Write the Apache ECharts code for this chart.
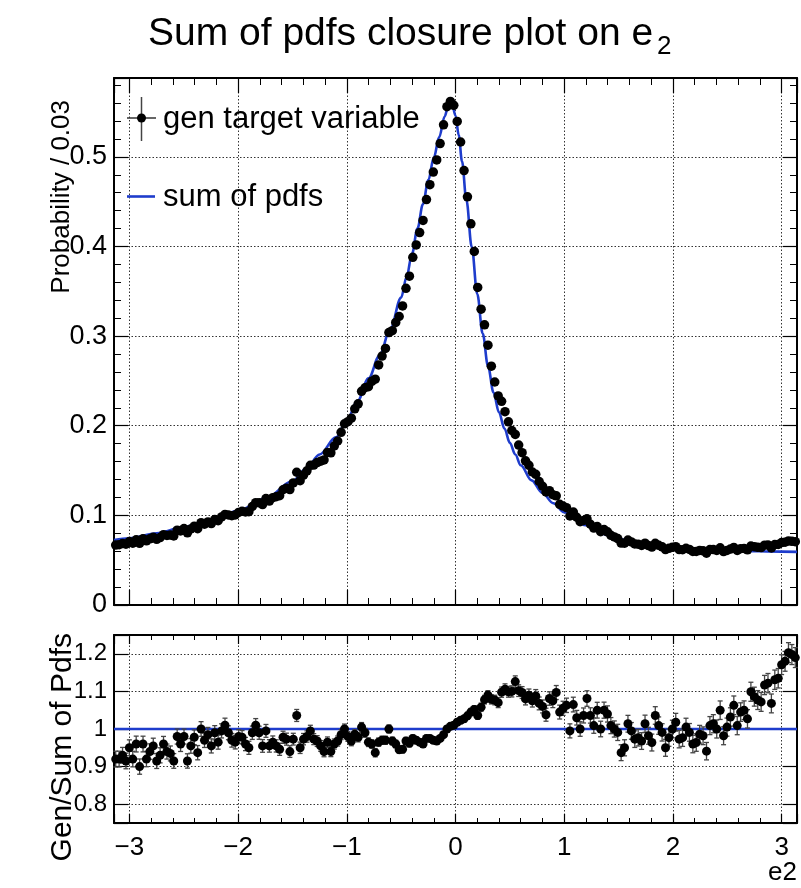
<!DOCTYPE html>
<html>
<head>
<meta charset="utf-8">
<script src="https://cdn.jsdelivr.net/npm/echarts@6/dist/echarts.min.js"></script>
<style>
html,body{margin:0;padding:0;background:#fff}
#c{width:801px;height:888px}
</style>
</head>
<body>
<div id="c"></div>
<script>
// ---------------- DATA ----------------
const binCount = 200;
const xMin = -Math.PI;
const xMax = Math.PI;

// gen target variable, probability per bin (200 bins over [-pi, pi])
const genValues = [
0.0669,0.0673,0.0685,0.0678,0.0708,0.0690,0.0727,0.0688,0.0740,0.0716,
0.0738,0.0757,0.0733,0.0752,0.0784,0.0776,0.0780,0.0771,0.0835,0.0827,
0.0853,0.0805,0.0849,0.0879,0.0851,0.0918,0.0901,0.0927,0.0909,0.0954,
0.0941,0.0983,0.1011,0.1004,0.0996,0.1004,0.1033,0.1045,0.1039,0.1041,
0.1099,0.1142,0.1140,0.1120,0.1188,0.1160,0.1197,0.1208,0.1220,0.1286,
0.1304,0.1288,0.1362,0.1481,0.1387,0.1450,0.1497,0.1558,0.1561,0.1589,
0.1604,0.1619,0.1702,0.1698,0.1774,0.1830,0.1927,0.2022,0.2046,0.2085,
0.2189,0.2245,0.2384,0.2424,0.2436,0.2496,0.2519,0.2679,0.2778,0.2863,
0.3040,0.3061,0.3153,0.3219,0.3337,0.3533,0.3669,0.3879,0.4018,0.4155,
0.4291,0.4524,0.4690,0.4831,0.4966,0.5148,0.5358,0.5560,0.5619,0.5575,
0.5395,0.5166,0.4847,0.4554,0.4253,0.3945,0.3543,0.3301,0.3126,0.2899,
0.2665,0.2488,0.2333,0.2273,0.2157,0.2044,0.1947,0.1903,0.1785,0.1700,
0.1609,0.1559,0.1484,0.1458,0.1378,0.1325,0.1261,0.1276,0.1231,0.1218,
0.1123,0.1104,0.1086,0.0993,0.1037,0.0979,0.0930,0.0943,0.0962,0.0901,
0.0858,0.0876,0.0818,0.0842,0.0817,0.0777,0.0759,0.0741,0.0691,0.0690,
0.0725,0.0704,0.0682,0.0678,0.0665,0.0690,0.0663,0.0646,0.0689,0.0666,
0.0649,0.0618,0.0632,0.0643,0.0651,0.0618,0.0617,0.0632,0.0620,0.0598,
0.0598,0.0609,0.0605,0.0578,0.0618,0.0619,0.0609,0.0638,0.0596,0.0609,
0.0624,0.0642,0.0608,0.0629,0.0631,0.0616,0.0658,0.0651,0.0644,0.0641,
0.0667,0.0670,0.0637,0.0674,0.0675,0.0697,0.0701,0.0715,0.0710,0.0706
];

// Gen / Sum of Pdfs ratio per bin
const ratioValues = [
0.920,0.920,0.930,0.915,0.950,0.920,0.960,0.900,0.960,0.920,
0.940,0.955,0.915,0.930,0.960,0.940,0.935,0.915,0.980,0.960,
0.980,0.915,0.955,0.978,0.937,1.000,0.970,0.985,0.955,0.990,
0.965,0.995,1.010,0.990,0.970,0.965,0.980,0.978,0.960,0.950,
0.990,1.010,0.990,0.955,0.995,0.955,0.965,0.955,0.946,0.978,
0.973,0.940,0.973,1.036,0.950,0.973,0.980,0.995,0.973,0.968,
0.955,0.940,0.965,0.940,0.960,0.968,0.985,1.000,0.980,0.968,
0.986,0.978,1.005,0.990,0.965,0.960,0.937,0.965,0.970,0.970,
1.000,0.968,0.960,0.945,0.946,0.968,0.962,0.975,0.970,0.965,
0.960,0.975,0.975,0.970,0.968,0.975,0.985,1.000,1.007,1.010,
1.018,1.023,1.027,1.035,1.045,1.052,1.036,1.058,1.078,1.090,
1.079,1.077,1.070,1.098,1.106,1.099,1.100,1.126,1.102,1.097,
1.080,1.090,1.075,1.088,1.068,1.060,1.038,1.081,1.075,1.097,
1.045,1.055,1.063,0.995,1.065,1.030,1.000,1.036,1.081,1.036,
1.009,1.050,1.000,1.050,1.040,1.009,1.000,0.991,0.937,0.950,
1.014,0.995,0.973,0.977,0.968,1.014,0.982,0.964,1.036,1.009,
0.991,0.950,0.977,1.000,1.018,0.973,0.977,1.005,0.991,0.960,
0.964,0.986,0.982,0.941,1.009,1.014,1.000,1.050,0.982,1.005,
1.032,1.063,1.009,1.045,1.050,1.027,1.099,1.086,1.077,1.072,
1.117,1.122,1.068,1.131,1.135,1.171,1.180,1.203,1.198,1.190
];

// sum of pdfs curve, sampled (x, probability)
const pdfX = [-3.1416,-3.0,-2.75,-2.5,-2.25,-2.0,-1.75,-1.5,-1.375,-1.25,-1.1,-1.0,-0.9,-0.8,-0.7,-0.6,-0.5,-0.45,-0.4,-0.35,-0.3,-0.25,-0.2,-0.15,-0.1,-0.07,-0.05,-0.03,0.0,0.03,0.06,0.1,0.15,0.2,0.25,0.3,0.35,0.4,0.45,0.5,0.55,0.6,0.7,0.8,0.9,1.0,1.2,1.4,1.6,1.8,2.0,2.3,2.6,3.0,3.1416];
const pdfY = [0.0725,0.0745,0.080,0.087,0.095,0.105,0.119,0.138,0.152,0.168,0.187,0.206,0.228,0.253,0.278,0.308,0.343,0.366,0.392,0.420,0.447,0.474,0.499,0.522,0.545,0.555,0.559,0.558,0.546,0.524,0.495,0.452,0.399,0.347,0.303,0.266,0.237,0.215,0.197,0.181,0.168,0.156,0.139,0.125,0.1135,0.1035,0.089,0.078,0.0715,0.0672,0.0642,0.0615,0.0603,0.0595,0.0593];

const ratioReference = 1.0;
const legendLabels = ['gen target variable', 'sum of pdfs'];
const titleMain = 'Sum of pdfs closure plot on e';
const titleSub = '2';
const yTitleTop = 'Probability / 0.03';
const yTitleBottom = 'Gen/Sum of Pdfs';
const xTitle = 'e2';
const statUnit = 3.5e-5; // Poisson-like scale of the error bars

// ---------------- BUILD ----------------
const FONT = '"Liberation Sans", Arial, Helvetica, sans-serif';
const BLUE = '#1e3ccc';
const binWidth = (xMax - xMin) / binCount;
const centers = genValues.map((_, i) => xMin + (i + 0.5) * binWidth);
const genPts = centers.map((x, i) => [x, genValues[i]]);
const genErr = centers.map((x, i) => { const e = Math.sqrt(statUnit * genValues[i]); return [x, genValues[i] - e, genValues[i] + e]; });
const ratioPts = centers.map((x, i) => [x, ratioValues[i]]);
const ratioErr = centers.map((x, i) => { const e = ratioValues[i] * Math.sqrt(statUnit / genValues[i]); return [x, ratioValues[i] - e, ratioValues[i] + e]; });
const pdfPts = pdfX.map((x, i) => [x, pdfY[i]]);

const grid0 = {left: 114, top: 78, width: 683, height: 527};
const grid1 = {left: 114, top: 635, width: 683, height: 188};

const dotted = {show: true, lineStyle: {color: '#333', width: 1, type: [1.5, 2]}};
const frameLine = {show: true, onZero: false, lineStyle: {color: '#000', width: 2}};

function xLabelFmt(v) {
  if (Math.abs(v - Math.round(v)) > 1e-6) return '';
  const n = Math.round(v);
  return n < 0 ? '\u2212' + (-n) : String(n);
}
function xAx(gridIndex, position, showLabel, tickLen, minorLen, split) {
  return {
    type: 'value', gridIndex, position, min: xMin, max: xMax, splitNumber: 6,
    axisLine: frameLine,
    axisTick: {show: true, inside: true, length: tickLen, lineStyle: {color: '#000', width: 1.2}},
    minorTick: {show: true, splitNumber: 5, length: minorLen, lineStyle: {color: '#000', width: 1}},
    axisLabel: {show: showLabel, formatter: xLabelFmt, fontSize: 26, fontFamily: FONT, color: '#000', margin: 12},
    splitLine: split ? dotted : {show: false},
    minorSplitLine: {show: false}
  };
}
function yTopFmt(v) {
  if (v > 0.55 || Math.abs(v * 10 - Math.round(v * 10)) > 1e-6) return '';
  return v === 0 ? '0' : v.toFixed(1);
}
function yBotFmt(v) {
  if (v < 0.76 || v > 1.24 || Math.abs(v * 10 - Math.round(v * 10)) > 1e-6) return '';
  const r = Math.round(v * 10) / 10;
  return r === 1 ? '1' : r.toFixed(1);
}

const errRender = (color, cap) => (params, api) => {
  const x = api.value(0), lo = api.value(1), hi = api.value(2);
  const a = api.coord([x, lo]), b = api.coord([x, hi]);
  const children = [{type: 'line', shape: {x1: a[0], y1: a[1], x2: b[0], y2: b[1]}, style: {stroke: color, lineWidth: 1.3}}];
  if (cap) {
    children.push({type: 'line', shape: {x1: a[0] - cap, y1: a[1], x2: a[0] + cap, y2: a[1]}, style: {stroke: color, lineWidth: 1.3}});
    children.push({type: 'line', shape: {x1: b[0] - cap, y1: b[1], x2: b[0] + cap, y2: b[1]}, style: {stroke: color, lineWidth: 1.3}});
  }
  return {type: 'group', children};
};

const option = {
  backgroundColor: '#fff',
  animation: false,
  grid: [grid0, grid1],
  xAxis: [
    xAx(0, 'bottom', false, 15, 7, true),
    xAx(0, 'top', false, 15, 7, false),
    xAx(1, 'bottom', true, 9, 5, true),
    xAx(1, 'top', false, 9, 5, false)
  ],
  yAxis: [
    {type: 'value', gridIndex: 0, position: 'left', min: 0, max: 0.588, interval: 0.1,
     axisLine: frameLine,
     axisTick: {show: true, inside: true, length: 14, lineStyle: {color: '#000', width: 1.2}},
     minorTick: {show: true, splitNumber: 5, length: 7, lineStyle: {color: '#000', width: 1}},
     axisLabel: {formatter: yTopFmt, fontSize: 27, fontFamily: FONT, color: '#000', margin: 7},
     splitLine: dotted},
    {type: 'value', gridIndex: 0, position: 'right', min: 0, max: 0.588, interval: 0.1,
     axisLine: frameLine,
     axisTick: {show: true, inside: true, length: 14, lineStyle: {color: '#000', width: 1.2}},
     minorTick: {show: true, splitNumber: 5, length: 7, lineStyle: {color: '#000', width: 1}},
     axisLabel: {show: false}, splitLine: {show: false}},
    {type: 'value', gridIndex: 1, position: 'left', min: 0.75, max: 1.25, splitNumber: 5,
     axisLine: frameLine,
     axisTick: {show: true, inside: true, length: 14, lineStyle: {color: '#000', width: 1.2}},
     axisLabel: {formatter: yBotFmt, fontSize: 24, fontFamily: FONT, color: '#000', margin: 7},
     splitLine: dotted},
    {type: 'value', gridIndex: 1, position: 'right', min: 0.75, max: 1.25, splitNumber: 5,
     axisLine: frameLine,
     axisTick: {show: true, inside: true, length: 14, lineStyle: {color: '#000', width: 1.2}},
     axisLabel: {show: false}, splitLine: {show: false}}
  ],
  series: [
    {name: legendLabels[1], type: 'line', xAxisIndex: 0, yAxisIndex: 0, data: pdfPts, smooth: 0.35, smoothMonotone: 'x',
     showSymbol: false, symbol: 'none', lineStyle: {color: BLUE, width: 2.6}, z: 3, silent: true},
    {type: 'custom', xAxisIndex: 0, yAxisIndex: 0, data: genErr, renderItem: errRender('#333', 0), z: 4, silent: true},
    {name: legendLabels[0], type: 'scatter', xAxisIndex: 0, yAxisIndex: 0, data: genPts, symbol: 'circle', symbolSize: 9.5,
     itemStyle: {color: '#000', opacity: 1}, z: 5, silent: true},
    {type: 'line', xAxisIndex: 2, yAxisIndex: 2, data: [[xMin, ratioReference], [xMax, ratioReference]], symbol: 'none',
     lineStyle: {color: BLUE, width: 2.4}, z: 3, silent: true},
    {type: 'custom', xAxisIndex: 2, yAxisIndex: 2, data: ratioErr, renderItem: errRender('#444', 2.5), z: 4, silent: true},
    {type: 'scatter', xAxisIndex: 2, yAxisIndex: 2, data: ratioPts, symbol: 'circle', symbolSize: 9,
     itemStyle: {color: '#000', opacity: 1}, z: 5, silent: true}
  ],
  graphic: [
    {type: 'text', x: 148, y: 34, z: 10,
     style: {text: '{m|' + titleMain + '}{s|' + titleSub + '}', verticalAlign: 'middle', align: 'left',
       rich: {m: {fontSize: 39, fontFamily: FONT, fill: '#000', lineHeight: 46},
              s: {fontSize: 26, fontFamily: FONT, fill: '#000', lineHeight: 26, padding: [26, 0, 0, 4]}}}},
    {type: 'text', x: 62, y: 100, rotation: Math.PI / 2, z: 10,
     style: {text: yTitleTop, fontSize: 26, fontFamily: FONT, fill: '#000', align: 'right', verticalAlign: 'middle'}},
    {type: 'text', x: 63, y: 633, rotation: Math.PI / 2, z: 10,
     style: {text: yTitleBottom, fontSize: 30, fontFamily: FONT, fill: '#000', align: 'right', verticalAlign: 'middle'}},
    {type: 'text', x: 797, y: 873, z: 10,
     style: {text: xTitle, fontSize: 26, fontFamily: FONT, fill: '#000', align: 'right', verticalAlign: 'middle'}},
    // legend: gen target variable (marker with error bars)
    {type: 'line', z: 10, shape: {x1: 141.5, y1: 97, x2: 141.5, y2: 141}, style: {stroke: '#444', lineWidth: 1.5}},
    {type: 'line', z: 10, shape: {x1: 127, y1: 118, x2: 156, y2: 118}, style: {stroke: '#333', lineWidth: 1.5}},
    {type: 'circle', z: 11, shape: {cx: 141.5, cy: 118, r: 4.5}, style: {fill: '#000'}},
    {type: 'text', x: 163, y: 119, z: 10,
     style: {text: legendLabels[0], fontSize: 31, fontFamily: FONT, fill: '#000', align: 'left', verticalAlign: 'middle'}},
    // legend: sum of pdfs
    {type: 'line', z: 10, shape: {x1: 127, y1: 196.5, x2: 155, y2: 196.5}, style: {stroke: BLUE, lineWidth: 2.6}},
    {type: 'text', x: 163, y: 197, z: 10,
     style: {text: legendLabels[1], fontSize: 31, fontFamily: FONT, fill: '#000', align: 'left', verticalAlign: 'middle'}}
  ]
};

const chart = echarts.init(document.getElementById('c'), null, {renderer: 'canvas', width: 801, height: 888});
chart.setOption(option);
</script>
</body>
</html>
